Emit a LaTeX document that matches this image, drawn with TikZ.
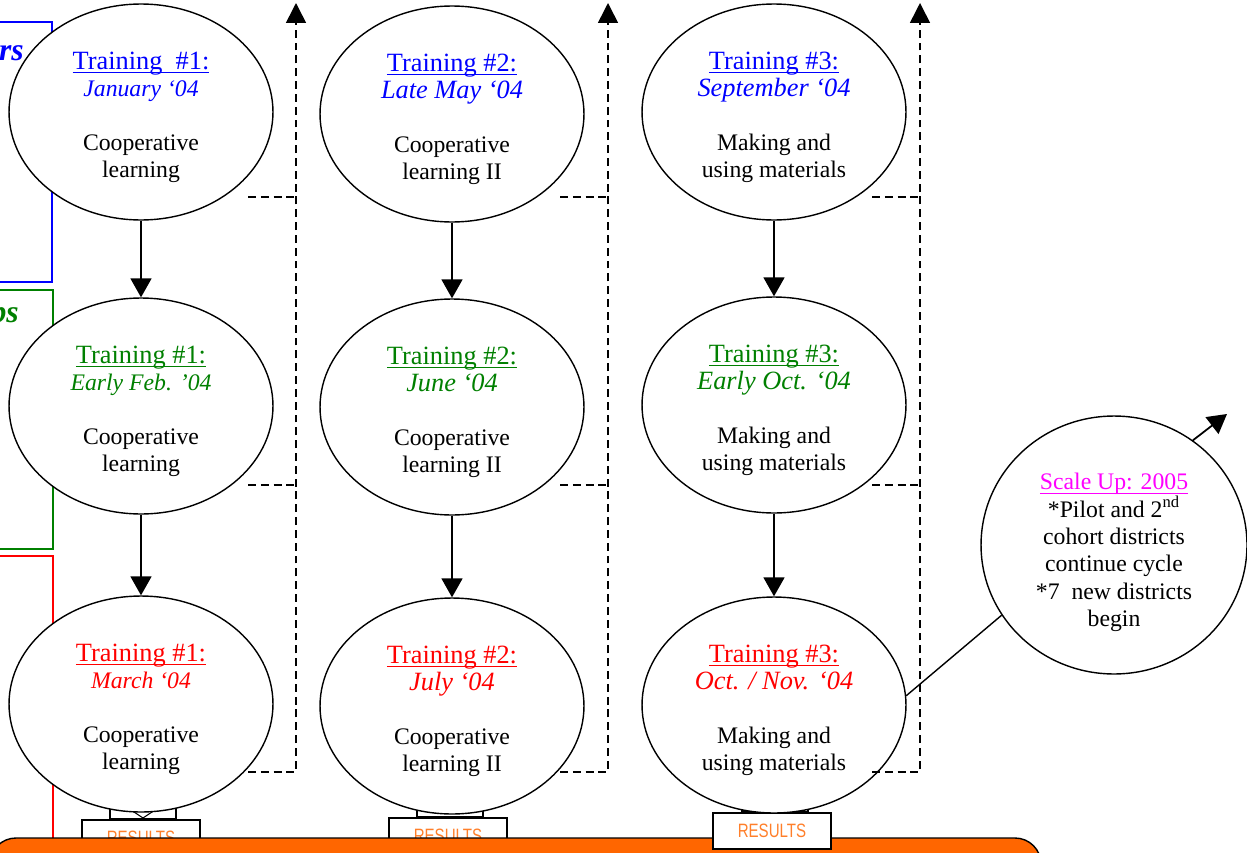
\documentclass[tikz,border=0pt]{standalone}
\usepackage{fontspec}
\setmainfont{Liberation Serif}
\newfontfamily\resultsfont{Liberation Sans}
\usetikzlibrary{shapes.geometric,arrows.meta,positioning}
\definecolor{trainBlue}{HTML}{0000FF}
\definecolor{trainGreen}{HTML}{008000}
\definecolor{trainRed}{HTML}{FF0000}
\definecolor{scaleMagenta}{HTML}{FF00FF}
\definecolor{barOrange}{HTML}{FF6600}
\definecolor{resultOrange}{HTML}{FF7F2A}
\newcommand{\titleline}[1]{\setbox0\hbox{#1}\rlap{\rule[-2.4pt]{\wd0}{0.8pt}}\box0}
\newcommand{\trainlabel}[5]{{\color{#1}\fontsize{15}{16}\selectfont\rule{0pt}{16pt}\titleline{#2}}\\{\color{#1}\itshape #3}\\[15pt]#4\\#5}
\newcommand{\bigdate}{\fontsize{15}{16}\selectfont}

\begin{document}
\begin{tikzpicture}[x=0.02cm, y=-0.02cm,
    every node/.style={font=\fontsize{13.5}{15.6}\selectfont},
    training/.style={draw, ellipse, fill=white, line width=0.8pt, minimum width=5.28cm, minimum height=4.32cm, align=center, inner sep=0pt},
    flow/.style={line width=1pt, -{Triangle[length=0.38cm, width=0.42cm]}},
    feedback/.style={line width=0.9pt, dash pattern=on 4.5pt off 2.8pt},
    resultbox/.style={draw, fill=white, line width=0.9pt, minimum width=2.36cm, minimum height=0.72cm, text=resultOrange, font=\resultsfont\fontsize{11}{12}\selectfont},
    tab/.style={draw, fill=white, line width=0.6pt, minimum width=1.32cm, minimum height=0.4cm, inner sep=0pt}]
    \useasboundingbox (0,0) rectangle (1247,852);
    \clip (0,0) rectangle (1247,852);
    % cohort boxes on the left
    \draw[trainBlue, line width=0.6pt] (-5,22) rectangle (52,282);
    \draw[trainGreen, line width=0.6pt] (-5,290) rectangle (53,549);
    \draw[trainRed, line width=0.6pt] (-5,556) rectangle (53,900);
    \node[anchor=base east, text=trainBlue, font=\fontsize{18}{20}\selectfont\bfseries\itshape, inner sep=0pt] (cohort1) at (24,60) {rs};
    \node[anchor=base east, text=trainGreen, font=\fontsize{18}{20}\selectfont\bfseries\itshape, inner sep=0pt] (cohort2) at (19,322) {ps};
    % results boxes and the bar
    \node[tab, anchor=south] (tab1) at (143,819) {};
    \node[tab, anchor=south] (tab2) at (450,817) {};
    \node[tab, anchor=south] (tab3) at (775,812) {};
    \draw[line width=0.6pt] (131,810) -- (143,818) -- (155,810);
    \node[resultbox, anchor=north] (res1) at (141,819) {\scalebox{0.78}[1]{RESULTS}};
    \node[resultbox, anchor=north] (res2) at (448,817) {\scalebox{0.78}[1]{RESULTS}};
    \draw[fill=barOrange, line width=0.8pt, rounded corners=0.52cm] (-10,900) |- (1041,838) -- (1041,900);
    \node[resultbox, anchor=north] (res3) at (772,812) {\scalebox{0.78}[1]{RESULTS}};
    % trainings
    \node[training] (t11) at (141,112) {\trainlabel{trainBlue}{Training\ \ \#1:}{January ‘04}{Cooperative}{learning}};
    \node[training] (t12) at (141,406) {\trainlabel{trainGreen}{Training \#1:}{Early Feb. ’04}{Cooperative}{learning}};
    \node[training] (t13) at (141,704) {\trainlabel{trainRed}{Training \#1:}{March ‘04}{Cooperative}{learning}};
    \node[training] (t21) at (452,114) {\trainlabel{trainBlue}{Training \#2:}{\bigdate Late May ‘04}{Cooperative}{learning II}};
    \node[training] (t22) at (452,407) {\trainlabel{trainGreen}{Training \#2:}{\bigdate June ‘04}{Cooperative}{learning II}};
    \node[training] (t23) at (452,706) {\trainlabel{trainRed}{Training \#2:}{\bigdate July ‘04}{Cooperative}{learning II}};
    \node[training] (t31) at (774,112) {\trainlabel{trainBlue}{Training \#3:}{\bigdate September ‘04}{Making and}{using materials}};
    \node[training] (t32) at (774,405) {\trainlabel{trainGreen}{Training \#3:}{\bigdate Early Oct. ‘04}{Making and}{using materials}};
    \node[training] (t33) at (774,705) {\trainlabel{trainRed}{Training \#3:}{\bigdate Oct. / Nov. ‘04}{Making and}{using materials}};
    \node[training, minimum width=5.32cm, minimum height=5.16cm] (scale) at (1114,545) {{\color{scaleMagenta}\rule{0pt}{18pt}\titleline{Scale Up: 2005}}\\*Pilot and 2\textsuperscript{nd}\\cohort districts\\continue cycle\\*7\ \ new districts\\begin};
    \coordinate (nextyear) at (1227,414);
    % flow between cohorts
    \foreach \c in {1,2,3} {
        \draw[flow] (t\c1) -- (t\c2);
        \draw[flow] (t\c2) -- (t\c3);
    }
    \draw[line width=0.8pt] (t33.4) -- (scale.212);
    \draw[flow] (scale.53) -- (nextyear);
    % feedback lines
    \foreach \c/\x in {1/296, 2/608, 3/920} {
        \coordinate (up\c) at (\x,3);
        \coordinate (turn\c) at (\x,772);
        \coordinate (low\c) at (\x-48,772);
        \coordinate (mid\c) at (\x-48,485);
        \coordinate (midj\c) at (\x,485);
        \coordinate (high\c) at (\x-48,197);
        \coordinate (highj\c) at (\x,197);
        \draw[feedback, -{Triangle[length=0.4cm, width=0.4cm]}] (low\c) -- (turn\c) -- (up\c);
        \draw[feedback] (mid\c) -- (midj\c);
        \draw[feedback] (high\c) -- (highj\c);
    }
\end{tikzpicture}
\end{document}
